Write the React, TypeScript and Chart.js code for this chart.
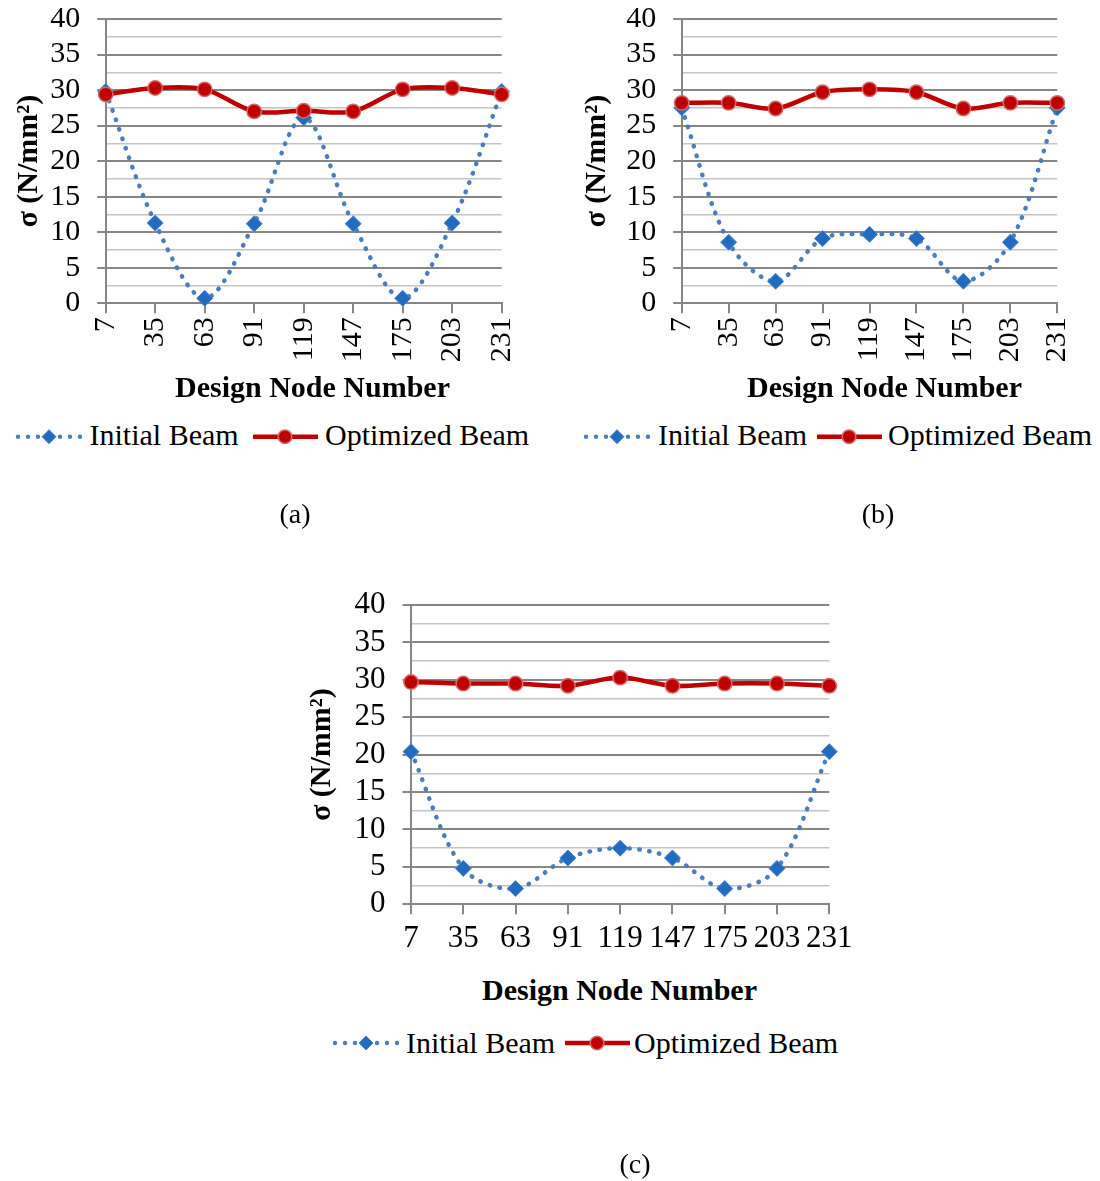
import React, { useEffect, useRef } from "react";
import { Chart, registerables } from "chart.js";

Chart.register(...registerables);

// ---------- data ----------
const nodeNumbers = ["7", "35", "63", "91", "119", "147", "175", "203", "231"];
const seriesNames = ["Initial Beam", "Optimized Beam"];

const initialA = [29.8, 11.3, 0.7, 11.2, 26.1, 11.2, 0.7, 11.3, 29.8];
const optimizedA = [29.4, 30.3, 30.1, 27.0, 27.1, 27.0, 30.1, 30.3, 29.4];

const initialB = [27.5, 8.6, 3.1, 9.1, 9.7, 9.1, 3.1, 8.6, 27.5];
const optimizedB = [28.2, 28.2, 27.4, 29.7, 30.1, 29.7, 27.4, 28.2, 28.2];

const initialC = [20.4, 4.8, 2.1, 6.2, 7.5, 6.2, 2.1, 4.8, 20.4];
const optimizedC = [29.7, 29.5, 29.5, 29.2, 30.3, 29.2, 29.5, 29.5, 29.2];

const yMin = 0;
const yMax = 40;
const yMajorStep = 5;
const yMinorStep = 2.5;
const xTitle = "Design Node Number";
const yTitle = "σ (N/mm²)";
const captions = ["(a)", "(b)", "(c)"];

// ---------- styles ----------
const FONT = '"Liberation Serif", "Times New Roman", Times, serif';
const MAJOR = "#868686";
const MINOR = "#C4C4C4";
const BLUE_LINE = "#4A7EBB";
const BLUE_MARK = "#1F6CC0";
const RED = "#C00000";

type Spec = {
  left: number;
  top: number;
  width: number;
  height: number;
  areaLeft: number;
  padTop: number;
  padRight: number;
  xHeight: number;
  rotate: number;
  tickSize: number;
  xPad: number;
  yTitlePad: number;
  initial: number[];
  optimized: number[];
};

const specs: Spec[] = [
  {
    left: 0, top: 0, width: 540, height: 380,
    areaLeft: 105.7, padTop: 19, padRight: 38.3, xHeight: 76.7,
    rotate: 90, tickSize: 30, xPad: 4, yTitlePad: 11,
    initial: initialA, optimized: optimizedA,
  },
  {
    left: 560, top: 0, width: 540, height: 380,
    areaLeft: 121.7, padTop: 19, padRight: 42.7, xHeight: 76.7,
    rotate: 90, tickSize: 30, xPad: 4, yTitlePad: 19,
    initial: initialB, optimized: optimizedB,
  },
  {
    left: 290, top: 580, width: 580, height: 380,
    areaLeft: 121, padTop: 25, padRight: 40.7, xHeight: 55.7,
    rotate: 0, tickSize: 31, xPad: 6, yTitlePad: 14.5,
    initial: initialC, optimized: optimizedC,
  },
];

const isMajor = (v: number) => Math.abs(v % yMajorStep) < 1e-6;

function zeroPadding(scale: any) {
  scale.paddingTop = 0;
  scale.paddingBottom = 0;
  scale.paddingLeft = 0;
  scale.paddingRight = 0;
}

function buildConfig(s: Spec): any {
  return {
    type: "line",
    data: {
      labels: nodeNumbers,
      datasets: [
        {
          label: seriesNames[0],
          data: s.initial,
          borderColor: BLUE_LINE,
          borderWidth: 4.5,
          borderDash: [0.5, 9.5],
          borderCapStyle: "round",
          tension: 0.33,
          fill: false,
          pointStyle: "rectRot",
          pointRadius: 8,
          pointBackgroundColor: BLUE_MARK,
          pointBorderColor: "#4A86CF",
          pointBorderWidth: 1,
          order: 2,
          clip: false,
        },
        {
          label: seriesNames[1],
          data: s.optimized,
          borderColor: RED,
          borderWidth: 4.5,
          tension: 0.33,
          fill: false,
          pointStyle: "circle",
          pointRadius: 7.2,
          pointBackgroundColor: RED,
          pointBorderColor: "#D46A6A",
          pointBorderWidth: 1.5,
          order: 1,
          clip: false,
        },
      ],
    },
    options: {
      responsive: false,
      animation: false,
      events: [],
      layout: { autoPadding: false, padding: { left: 0, top: s.padTop, right: s.padRight, bottom: 0 } },
      plugins: { legend: { display: false }, tooltip: { enabled: false } },
      scales: {
        x: {
          type: "category",
          offset: false,
          grid: {
            display: true,
            drawOnChartArea: false,
            drawTicks: true,
            tickLength: 10,
            color: MAJOR,
            lineWidth: 2,
            tickColor: MAJOR,
            tickWidth: 2,
          },
          border: { display: true, color: MAJOR, width: 2 },
          ticks: {
            color: "#000",
            font: { family: FONT, size: s.tickSize },
            minRotation: s.rotate,
            maxRotation: s.rotate,
            padding: s.xPad,
            autoSkip: false,
          },
          afterFit: (scale: any) => {
            scale.height = s.xHeight;
            zeroPadding(scale);
          },
        },
        y: {
          min: yMin,
          max: yMax,
          grid: {
            display: true,
            drawTicks: true,
            tickLength: 8.5,
            color: (ctx: any) => (isMajor(ctx.tick.value) ? MAJOR : MINOR),
            lineWidth: (ctx: any) => (isMajor(ctx.tick.value) ? 2 : 1.5),
            tickColor: (ctx: any) => (isMajor(ctx.tick.value) ? MAJOR : "rgba(0,0,0,0)"),
            tickWidth: 2,
          },
          border: { display: true, color: MAJOR, width: 2 },
          ticks: {
            stepSize: yMinorStep,
            autoSkip: false,
            padding: 17,
            color: "#000",
            font: { family: FONT, size: s.tickSize },
            callback: (v: any) => (isMajor(Number(v)) ? String(v) : ""),
          },
          title: {
            display: true,
            text: yTitle,
            color: "#000",
            font: { family: FONT, size: 30, weight: "bold" },
            padding: { top: s.yTitlePad, bottom: 0 },
          },
          afterFit: (scale: any) => {
            scale.width = s.areaLeft;
            zeroPadding(scale);
          },
        },
      },
    },
  };
}

function Panel({ spec }: { spec: Spec }) {
  const ref = useRef<HTMLCanvasElement>(null);
  useEffect(() => {
    if (!ref.current) return;
    const chart = new Chart(ref.current, buildConfig(spec));
    return () => chart.destroy();
  }, [spec]);
  return (
    <canvas
      ref={ref}
      width={spec.width}
      height={spec.height}
      style={{ position: "absolute", left: spec.left, top: spec.top, width: spec.width, height: spec.height }}
    />
  );
}

function Text({
  text, x, top, size, bold, center,
}: { text: string; x: number; top: number; size: number; bold?: boolean; center?: boolean }) {
  return (
    <div
      style={{
        position: "absolute",
        left: x,
        top,
        fontFamily: FONT,
        fontSize: size,
        fontWeight: bold ? "bold" : "normal",
        lineHeight: 1,
        whiteSpace: "nowrap",
        color: "#000",
        transform: center ? "translateX(-50%)" : undefined,
      }}
    >
      {text}
    </div>
  );
}

type LegendPos = { cy: number; diamond: number; text1: number; circle: number; text2: number; textTop: number };

const legends: LegendPos[] = [
  { cy: 436.7, diamond: 49, text1: 89.5, circle: 285, text2: 325, textTop: 419.9 },
  { cy: 436.7, diamond: 617, text1: 658, circle: 849, text2: 888, textTop: 419.9 },
  { cy: 1043, diamond: 366, text1: 406, circle: 597, text2: 634, textTop: 1028.2 },
];

function LegendSymbols() {
  return (
    <svg
      width={1100}
      height={1181}
      style={{ position: "absolute", left: 0, top: 0, pointerEvents: "none" }}
    >
      {legends.map((l, i) => (
        <g key={i}>
          {[-31, -21, -11, 11, 21, 31].map((d) => (
            <circle key={d} cx={l.diamond + d} cy={l.cy} r={2.2} fill={BLUE_LINE} />
          ))}
          <polygon
            points={`${l.diamond},${l.cy - 7} ${l.diamond + 7},${l.cy} ${l.diamond},${l.cy + 7} ${l.diamond - 7},${l.cy}`}
            fill={BLUE_MARK}
            stroke="#4A86CF"
            strokeWidth={1}
          />
          <line x1={l.circle - 32} y1={l.cy} x2={l.circle + 33} y2={l.cy} stroke={RED} strokeWidth={4.5} />
          <circle cx={l.circle} cy={l.cy} r={6.8} fill={RED} stroke="#D46A6A" strokeWidth={1.5} />
        </g>
      ))}
    </svg>
  );
}

export default function App() {
  return (
    <div style={{ position: "absolute", left: 0, top: 0, width: 1100, height: 1181, background: "#fff", overflow: "hidden" }}>
      {specs.map((s, i) => (
        <Panel key={i} spec={s} />
      ))}
      <Text text={xTitle} x={312.5} top={371.9} size={30} bold center />
      <Text text={xTitle} x={884.5} top={371.9} size={30} bold center />
      <Text text={xTitle} x={619.5} top={974.9} size={30} bold center />
      {legends.map((l, i) => (
        <React.Fragment key={i}>
          <Text text={seriesNames[0]} x={l.text1} top={l.textTop} size={30} />
          <Text text={seriesNames[1]} x={l.text2} top={l.textTop} size={30} />
        </React.Fragment>
      ))}
      <LegendSymbols />
      <Text text={captions[0]} x={295} top={499.5} size={28} center />
      <Text text={captions[1]} x={878} top={499.5} size={28} center />
      <Text text={captions[2]} x={635} top={1149.5} size={28} center />
    </div>
  );
}
